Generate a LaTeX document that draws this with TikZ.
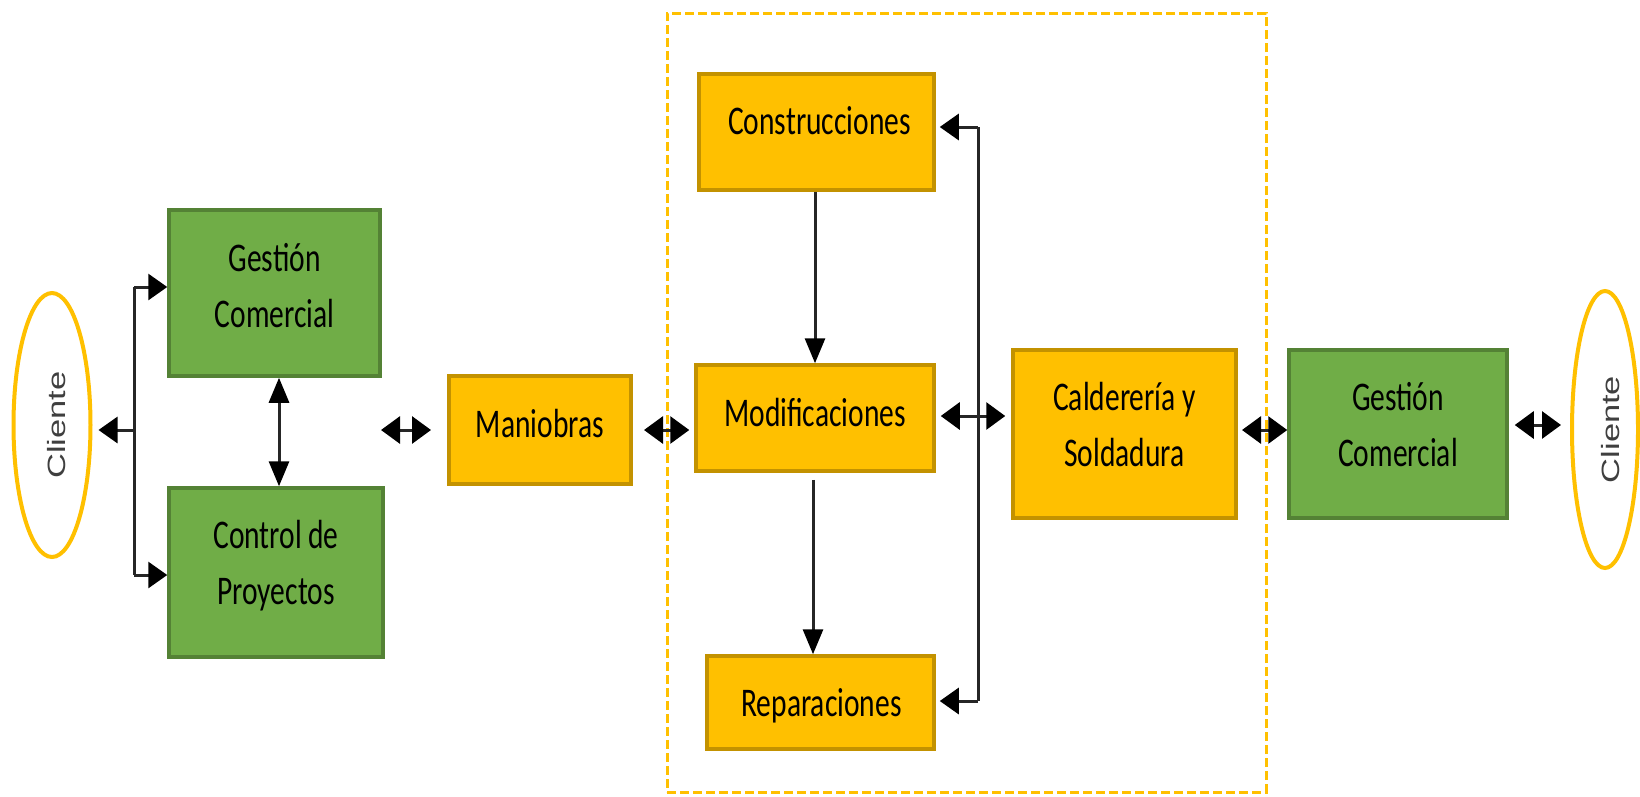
\documentclass[tikz,border=0pt]{standalone}
\usepackage{fontspec}
\setmainfont{Carlito}
\newfontfamily\clifont{Liberation Sans}
\usetikzlibrary{arrows.meta,shapes.geometric}
\definecolor{boxy}{HTML}{FFC000}
\definecolor{boxyd}{HTML}{C39200}
\definecolor{boxg}{HTML}{70AD47}
\definecolor{boxgd}{HTML}{548235}
\definecolor{clitext}{HTML}{3F3F3F}
\newcommand\vst[1]{\scalebox{1}[1.38]{#1}}
\newcommand\clitxt{\rotatebox{90}{\scalebox{1.38}[1]{Cliente}}}
\begin{document}
\begin{tikzpicture}[x=1pt,y=-1pt,
  box/.style={draw, line width=3.5pt, inner sep=0pt},
  ybox/.style={box, fill=boxy, draw=boxyd},
  gbox/.style={box, fill=boxg, draw=boxgd},
  txt/.style={inner sep=0pt, align=center, text=black, font=\fontsize{29.5}{56}\selectfont},
  clit/.style={inner sep=0pt, text=clitext, font=\clifont\fontsize{25}{25}\selectfont},
  cli/.style={ellipse, draw=boxy, line width=4pt, inner sep=0pt},
  zonebox/.style={draw=boxy, line width=3pt, dash pattern=on 9pt off 4pt, inner sep=0pt},
  con/.style={draw=black!85, line width=3pt},
  hh/.style={-{Triangle[length=19pt,width=26pt,color=black]}},
  vv/.style={-{Triangle[length=25pt,width=20pt,color=black]}},
  hhd/.style={{Triangle[length=19pt,width=27pt,color=black]}-{Triangle[length=19pt,width=27pt,color=black]}},
  vvd/.style={{Triangle[length=25pt,width=20pt,color=black]}-{Triangle[length=25pt,width=20pt,color=black]}}
]
\useasboundingbox[fill=white] (0,0) rectangle (1640,796);

% dashed zone
\node[zonebox, minimum width=599pt, minimum height=779pt] (zone) at (966.5,402.5) {};

% ellipses
\node[cli, minimum width=77pt, minimum height=264pt] (cliL) at (52,425) {};
\node[clit] (cliLT) at ([xshift=5pt]cliL.center) {\clitxt};
\node[cli, minimum width=66pt, minimum height=277pt] (cliR) at (1605,429.5) {};
\node[clit] (cliRT) at ([xshift=6pt]cliR.center) {\clitxt};

% boxes
\node[gbox, minimum width=211pt, minimum height=166pt] (gcl) at (274.5,293) {};
\node[txt] (gclT) at ([yshift=7.5pt]gcl.center) {\vst{Gestión}\\\vst{Comercial}};
\node[gbox, minimum width=214pt, minimum height=169pt] (cdp) at (276,572.5) {};
\node[txt] (cdpT) at ([yshift=7pt]cdp.center) {\vst{Control de}\\\vst{Proyectos}};
\node[ybox, minimum width=182pt, minimum height=108pt] (man) at (540,430) {};
\node[txt] (manT) at ([yshift=6pt]man.center) {\vst{Maniobras}};
\node[ybox, minimum width=235pt, minimum height=116pt] (con) at (816.5,132) {};
\node[txt] (conT) at ([xshift=3pt,yshift=11pt]con.center) {\vst{Construcciones}};
\node[ybox, minimum width=238pt, minimum height=106pt] (mod) at (815,418) {};
\node[txt] (modT) at ([yshift=5pt]mod.center) {\vst{Modificaciones}};
\node[ybox, minimum width=227pt, minimum height=93pt] (rep) at (820.5,702.5) {};
\node[txt] (repT) at ([xshift=1pt,yshift=-3pt]rep.center) {\vst{Reparaciones}};
\node[ybox, minimum width=223pt, minimum height=168pt] (cal) at (1124.5,434) {};
\node[txt] (calT) at ([yshift=9pt]cal.center) {\vst{Calderería y}\\\vst{Soldadura}};
\node[gbox, minimum width=218pt, minimum height=168pt] (gcr) at (1398,434) {};
\node[txt] (gcrT) at ([yshift=9pt]gcr.center) {\vst{Gestión}\\\vst{Comercial}};

% left bracket
\coordinate (bT) at (134,287);
\coordinate (bB) at (134,575);
\coordinate (bM) at (134,430);
\draw[con] (bT) -- (bB);
\draw[con,hh] (bT) -- (gcl.west |- bT);
\draw[con,hh] (bB) -- (cdp.west |- bB);
\draw[con,hh,shorten >=6pt] (bM) -- (cliL.east |- bM);

% gestion <-> control
\draw[con,vvd] (279,0 |- gcl.south) -- (279,0 |- cdp.north);

% floating double arrows
\coordinate (a1) at (381,430);
\coordinate (a2) at (431,430);
\draw[con,hhd] (a1) -- (a2);
\coordinate (a3) at (644,430);
\draw[con,hhd,shorten >=5pt] (a3) -- (mod.west |- a3);

% inside the zone
\draw[con,vv] (815,0 |- con.south) -- (815,0 |- mod.north);
\draw[con,vv,shorten <=7pt] (813,0 |- mod.south) -- (813,0 |- rep.north);
\coordinate (vT) at (978,127);
\coordinate (vB) at (978,701);
\draw[con] (vT) -- (vB);
\draw[con,hh,shorten >=4pt] (vT) -- (con.east |- vT);
\draw[con,hh,shorten >=4pt] (vB) -- (rep.east |- vB);
\draw[con,hhd,shorten <=5pt,shorten >=6pt] (mod.east |- 0,416) -- (cal.west |- 0,416);

% right side
\coordinate (a4) at (1242,430);
\draw[con,hhd] (a4) -- (gcr.west |- a4);
\draw[con,hhd,shorten <=6pt,shorten >=9pt] (gcr.east |- 0,425) -- (cliR.west |- 0,425);
\end{tikzpicture}
\end{document}
